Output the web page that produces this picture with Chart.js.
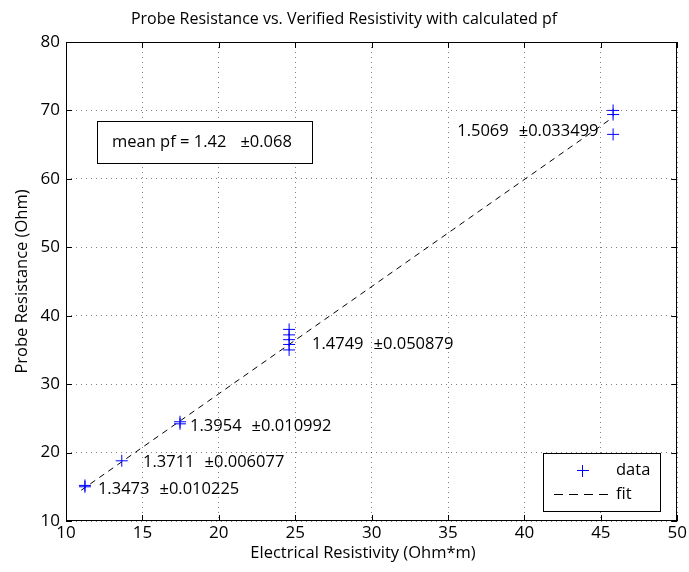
<!DOCTYPE html>
<html>
<head>
<meta charset="utf-8">
<script src="https://cdn.jsdelivr.net/npm/chart.js@4.4.1/dist/chart.umd.min.js"></script>
<style>
  html, body { margin: 0; padding: 0; background: #fff; }
  #wrap { width: 689px; height: 572px; position: relative; }
</style>
</head>
<body>
<div id="wrap"><canvas id="c"></canvas></div>
<script>
// ---- data ----
const xTicks = [10, 15, 20, 25, 30, 35, 40, 45, 50];
const yTicks = [10, 20, 30, 40, 50, 60, 70, 80];
const resistivity = [11.24, 11.24, 13.65, 17.46, 17.46, 24.6, 24.6, 24.6, 24.6, 24.6, 45.8, 45.8, 45.8];
const probeResistance = [15.0, 15.2, 18.8, 24.5, 24.2, 38.0, 37.2, 36.5, 35.8, 35.0, 70.0, 69.4, 66.5];
const fitX = [11.0, 45.8];
const fitY = [14.5, 69.0];
const pfMean = ['1.3473', '1.3711', '1.3954', '1.4749', '1.5069'];
const pfStd = ['0.010225', '0.006077', '0.010992', '0.050879', '0.033499'];
const meanPf = '1.42';
const meanPfStd = '0.068';
// text anchor (data coordinates) for each pf label
const pfLabelX = [12.09, 15.04, 18.12, 26.1, 35.6];
const pfLabelY = [14.68, 18.62, 23.88, 35.87, 67.0];

const FONT = '"Open Sans", "DejaVu Sans", sans-serif';

const dataPts = resistivity.map((x, i) => ({ x: x, y: probeResistance[i] }));
const fitPts = fitX.map((x, i) => ({ x: x, y: fitY[i] }));

const decor = {
  id: 'decor',
  afterDraw(chart) {
    const ctx = chart.ctx;
    const a = chart.chartArea;
    const xs = chart.scales.x, ys = chart.scales.y;
    ctx.save();
    // box
    ctx.strokeStyle = '#000';
    ctx.lineWidth = 1;
    ctx.setLineDash([]);
    ctx.strokeRect(Math.round(a.left) + 0.5, Math.round(a.top) + 0.5,
      Math.round(a.right - a.left) - 1, Math.round(a.bottom - a.top) - 1);
    // inner ticks
    const tl = 6;
    ctx.beginPath();
    xTicks.forEach(v => {
      const px = Math.round(xs.getPixelForValue(v)) + 0.5;
      ctx.moveTo(px, a.bottom); ctx.lineTo(px, a.bottom - tl);
      ctx.moveTo(px, a.top); ctx.lineTo(px, a.top + tl);
    });
    yTicks.forEach(v => {
      const py = Math.round(ys.getPixelForValue(v)) + 0.5;
      ctx.moveTo(a.left, py); ctx.lineTo(a.left + tl, py);
      ctx.moveTo(a.right, py); ctx.lineTo(a.right - tl, py);
    });
    ctx.stroke();

    // title
    ctx.fillStyle = '#000';
    ctx.font = '16px ' + FONT;
    ctx.textAlign = 'center';
    ctx.textBaseline = 'middle';
    ctx.fillText('Probe Resistance vs. Verified Resistivity with calculated pf', 344, 19);

    // x axis title
    ctx.font = '16.5px ' + FONT;
    ctx.fillText('Electrical Resistivity (Ohm*m)', 363, 553);

    // pf labels
    ctx.textAlign = 'left';
    pfMean.forEach((m, i) => {
      const px = xs.getPixelForValue(pfLabelX[i]);
      const py = ys.getPixelForValue(pfLabelY[i]);
      ctx.fillText(m, px, py);
      const w = ctx.measureText(m).width;
      ctx.fillText('\u00B1' + pfStd[i], px + w + 10, py);
    });

    // mean pf box
    const bx = 97, by = 121, bw = 215, bh = 42;
    ctx.fillStyle = '#fff';
    ctx.fillRect(bx, by, bw, bh);
    ctx.strokeStyle = '#000';
    ctx.strokeRect(bx + 0.5, by + 0.5, bw, bh);
    ctx.fillStyle = '#000';
    const t1 = 'mean pf = ' + meanPf;
    ctx.fillText(t1, 112, by + bh / 2);
    ctx.fillText('\u00B1' + meanPfStd, 112 + ctx.measureText(t1).width + 14, by + bh / 2);

    // legend
    const lx = 543, ly = 453, lw = 117, lh = 58;
    ctx.fillStyle = '#fff';
    ctx.fillRect(lx, ly, lw, lh);
    ctx.strokeRect(lx + 0.5, ly + 0.5, lw, lh);
    ctx.strokeStyle = '#0000ff';
    ctx.beginPath();
    ctx.moveTo(577, 470.5); ctx.lineTo(589, 470.5);
    ctx.moveTo(582.5, 465); ctx.lineTo(582.5, 477);
    ctx.stroke();
    ctx.strokeStyle = '#000';
    ctx.setLineDash([9, 6]);
    ctx.beginPath();
    ctx.moveTo(554, 494.5); ctx.lineTo(611, 494.5);
    ctx.stroke();
    ctx.setLineDash([]);
    ctx.fillStyle = '#000';
    ctx.fillText('data', 616, 470);
    ctx.fillText('fit', 616, 494);
    ctx.restore();
  }
};

new Chart(document.getElementById('c'), {
  type: 'scatter',
  data: {
    datasets: [
      {
        label: 'fit',
        type: 'line',
        data: fitPts,
        borderColor: '#000',
        borderWidth: 1,
        borderDash: [6, 5],
        pointRadius: 0,
        fill: false,
        order: 2
      },
      {
        label: 'data',
        data: dataPts,
        pointStyle: 'cross',
        pointRadius: 6,
        borderColor: '#0000ff',
        backgroundColor: '#0000ff',
        borderWidth: 1,
        order: 1
      }
    ]
  },
  options: {
    responsive: true,
    maintainAspectRatio: false,
    animation: false,
    layout: { padding: { top: 42, right: 10, left: 0, bottom: 0 } },
    plugins: { legend: { display: false }, tooltip: { enabled: false }, title: { display: false } },
    scales: {
      x: {
        type: 'linear',
        min: 10, max: 50,
        afterBuildTicks(s) { s.ticks = xTicks.map(v => ({ value: v })); },
        afterFit(s) { s.height = 51; },
        ticks: { color: '#000', font: { family: FONT, size: 17 }, padding: 2, maxRotation: 0 },
        grid: { color: 'rgba(0,0,0,0.5)', drawTicks: false, lineWidth: 1 },
        border: { display: false, dash: [1, 4] },
        title: { display: false }
      },
      y: {
        type: 'linear',
        min: 10, max: 80,
        afterBuildTicks(s) { s.ticks = yTicks.map(v => ({ value: v })); },
        afterFit(s) { s.width = 66; },
        ticks: { color: '#000', font: { family: FONT, size: 17 }, padding: 6 },
        grid: { color: 'rgba(0,0,0,0.5)', drawTicks: false, lineWidth: 1 },
        border: { display: false, dash: [1, 4] },
        title: { display: true, text: 'Probe Resistance (Ohm)', color: '#000',
                 font: { family: FONT, size: 16.5 }, padding: { top: 12, bottom: 0 } }
      }
    }
  },
  plugins: [decor]
});
</script>
</body>
</html>
